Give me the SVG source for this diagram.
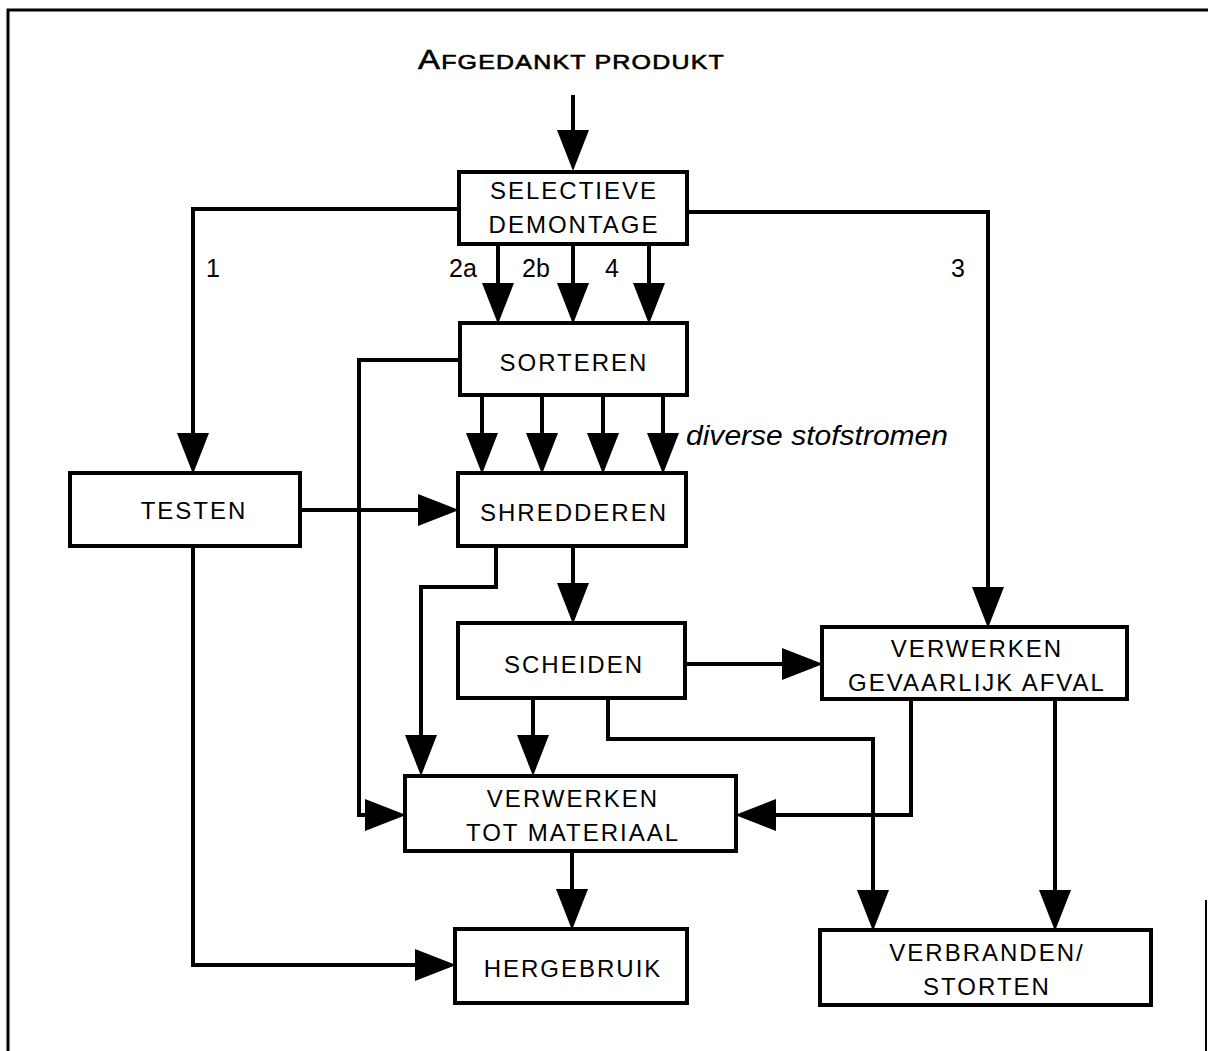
<svg xmlns="http://www.w3.org/2000/svg" width="1208" height="1051" viewBox="0 0 1208 1051">
  <style>
    .box { fill: #fff; stroke: #000; stroke-width: 4; }
    .lbl { font-family: "Liberation Sans", Arial, sans-serif; font-size: 24px; letter-spacing: 2px; text-anchor: middle; fill: #000; }
    .num { font-family: "Liberation Sans", Arial, sans-serif; font-size: 25px; text-anchor: middle; fill: #000; }
    .flow { fill: none; stroke: #000; stroke-width: 4; marker-end: url(#head); }
  </style>
  <defs>
    <marker id="head" markerUnits="userSpaceOnUse" markerWidth="42" markerHeight="32" refX="30" refY="16" orient="auto">
      <path d="M0,0 L41,16 L0,32 z" fill="#000"/>
    </marker>
  </defs>

  <rect width="1208" height="1051" fill="#fff"/>
  <!-- frame -->
  <path d="M8,1051 V10 H1208" fill="none" stroke="#000" stroke-width="3"/>
  <path d="M1206,900 V1051" fill="none" stroke="#000" stroke-width="2"/>

  <!-- title -->
  <text x="418" y="69" font-family="'Liberation Sans', Arial, sans-serif" font-size="27" stroke="#000" stroke-width="0.6" letter-spacing="1" textLength="307" lengthAdjust="spacingAndGlyphs">A<tspan font-size="20.5">FGEDANKT PRODUKT</tspan></text>

  <!-- connectors -->
  <g id="connectors">
    <path class="flow" d="M573,95 V160"/>
    <path class="flow" d="M459,209 H193 V463"/>
    <path class="flow" d="M687,212 H988 V617"/>
    <path class="flow" d="M498,244 V313"/>
    <path class="flow" d="M573,244 V313"/>
    <path class="flow" d="M649,244 V313"/>
    <path class="flow" d="M460,360 H359 V815 H395"/>
    <path class="flow" d="M482,395 V463"/>
    <path class="flow" d="M542,395 V463"/>
    <path class="flow" d="M603,395 V463"/>
    <path class="flow" d="M663,395 V463"/>
    <path class="flow" d="M300,510 H448"/>
    <path class="flow" d="M193,546 V965 H445"/>
    <path class="flow" d="M496,546 V587 H421 V765"/>
    <path class="flow" d="M573,546 V613"/>
    <path class="flow" d="M685,664 H812"/>
    <path class="flow" d="M533,698 V765"/>
    <path class="flow" d="M608,698 V739 H873 V920"/>
    <path class="flow" d="M911,699 V815 H746"/>
    <path class="flow" d="M1055,699 V920"/>
    <path class="flow" d="M572,851 V919"/>
    <text class="num" x="213" y="277">1</text>
    <text class="num" x="463" y="277">2a</text>
    <text class="num" x="536" y="277">2b</text>
    <text class="num" x="612" y="277">4</text>
    <text class="num" x="958" y="277">3</text>
    <text x="686" y="445" font-family="'Liberation Sans', Arial, sans-serif" font-size="27" font-style="italic" textLength="262" lengthAdjust="spacingAndGlyphs">diverse stofstromen</text>
  </g>

  <!-- process steps -->
  <g id="selectieve-demontage">
    <rect class="box" x="459" y="172" width="228" height="72"/>
    <text class="lbl" x="574" y="199">SELECTIEVE</text>
    <text class="lbl" x="574" y="233">DEMONTAGE</text>
  </g>
  <g id="sorteren">
    <rect class="box" x="460" y="323" width="227" height="72"/>
    <text class="lbl" x="574" y="371">SORTEREN</text>
  </g>
  <g id="testen">
    <rect class="box" x="70" y="473" width="230" height="73"/>
    <text class="lbl" x="194" y="519">TESTEN</text>
  </g>
  <g id="shredderen">
    <rect class="box" x="458" y="473" width="228" height="73"/>
    <text class="lbl" x="574" y="521">SHREDDEREN</text>
  </g>
  <g id="scheiden">
    <rect class="box" x="458" y="623" width="227" height="75"/>
    <text class="lbl" x="574" y="673">SCHEIDEN</text>
  </g>
  <g id="verwerken-gevaarlijk-afval">
    <rect class="box" x="822" y="627" width="305" height="72"/>
    <text class="lbl" x="977" y="657">VERWERKEN</text>
    <text class="lbl" x="977" y="691">GEVAARLIJK AFVAL</text>
  </g>
  <g id="verwerken-tot-materiaal">
    <rect class="box" x="405" y="776" width="331" height="75"/>
    <text class="lbl" x="573" y="807">VERWERKEN</text>
    <text class="lbl" x="573" y="841">TOT MATERIAAL</text>
  </g>
  <g id="hergebruik">
    <rect class="box" x="455" y="929" width="232" height="74"/>
    <text class="lbl" x="573" y="977">HERGEBRUIK</text>
  </g>
  <g id="verbranden-storten">
    <rect class="box" x="820" y="930" width="331" height="75"/>
    <text class="lbl" x="987" y="961">VERBRANDEN/</text>
    <text class="lbl" x="987" y="995">STORTEN</text>
  </g>
</svg>
